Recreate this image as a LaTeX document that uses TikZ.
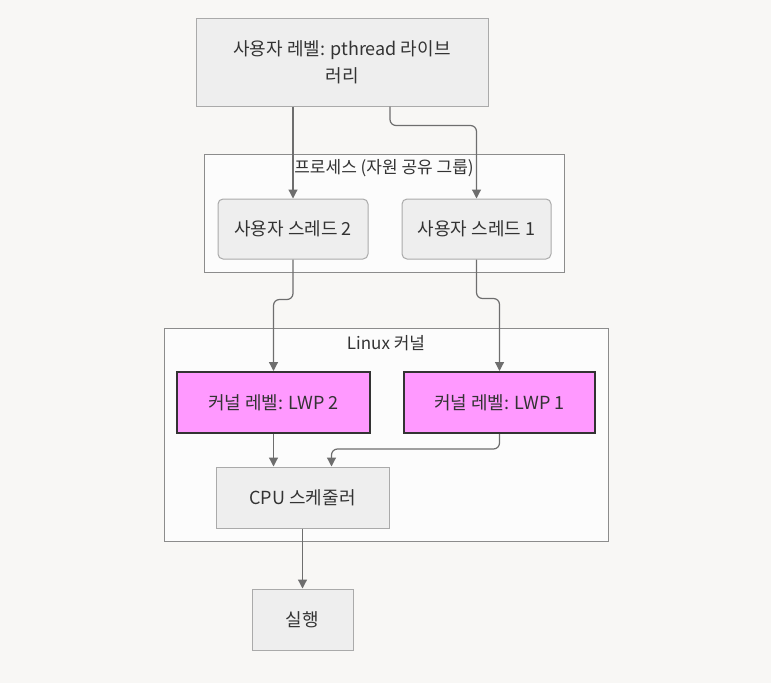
\documentclass[tikz,border=0pt]{standalone}
\usepackage{fontspec}
\setmainfont{Noto Sans CJK KR}
\usetikzlibrary{arrows.meta, positioning}
\definecolor{canvas}{RGB}{248,247,245}
\definecolor{boxfill}{RGB}{238,238,238}
\definecolor{boxline}{RGB}{170,170,170}
\definecolor{groupfill}{RGB}{252,252,252}
\definecolor{groupline}{RGB}{140,140,140}
\definecolor{lwpfill}{RGB}{255,153,255}
\definecolor{lwpline}{RGB}{51,51,51}
\definecolor{arrowgray}{RGB}{110,110,110}
\definecolor{textgray}{RGB}{51,51,51}

\tikzset{
  procbox/.style={draw=boxline, fill=boxfill, line width=1pt, text=textgray,
                  font=\fontsize{18}{27}\selectfont, align=center},
  threadbox/.style={procbox, rounded corners=5pt},
  lwpbox/.style={procbox, fill=lwpfill, draw=lwpline, line width=2pt},
  groupbox/.style={draw=groupline, fill=groupfill, line width=1pt},
  grouplabel/.style={text=textgray, font=\fontsize{17}{20}\selectfont},
  conn/.style={draw=arrowgray, line width=1.2pt, rounded corners=6pt,
               -{Triangle[length=9pt,width=9pt]}}
}

\begin{document}
\begin{tikzpicture}[x=1pt, y=-1pt]
    \fill[canvas] (0,0) rectangle (771,683);

    % groups
    \node[groupbox, minimum width=360pt, minimum height=118pt] (procgrp) at (384,213) {};
    \node[grouplabel] (proclabel) at (384,168) {프로세스 (자원 공유 그룹)};
    \node[groupbox, minimum width=444pt, minimum height=213pt] (kerngrp) at (386,434.5) {};
    \node[grouplabel] (kernlabel) at (386,343) {Linux 커널};

    % nodes
    \node[procbox, minimum width=292pt, minimum height=88pt] (lib) at (342,62)
      {사용자 레벨: pthread 라이브\\러리};
    \node[threadbox, minimum width=150pt, minimum height=60pt] (thr2) at (293,229)
      {사용자 스레드 2};
    \node[threadbox, minimum width=149pt, minimum height=60pt] (thr1) at (476.5,229)
      {사용자 스레드 1};
    \node[lwpbox, minimum width=193pt, minimum height=61pt] (lwp2) at (273.5,402.5)
      {커널 레벨: LWP 2};
    \node[lwpbox, minimum width=191pt, minimum height=61pt] (lwp1) at (499.5,402.5)
      {커널 레벨: LWP 1};
    \node[procbox, minimum width=173pt, minimum height=61pt] (sched) at (302.5,497.5)
      {CPU 스케줄러};
    \node[procbox, minimum width=101pt, minimum height=61pt] (run) at (302.5,619.5)
      {실행};

    % connectors
    \draw[conn] (lib.south -| thr2.north) -- (thr2.north);
    \draw[conn] ([xshift=48pt]lib.south) -- ++(0,19) -| (thr1.north);
    \draw[conn] (thr2.south) -- ++(0,40) -| (lwp2.north);
    \draw[conn] (thr1.south) -- ++(0,39) -| (lwp1.north);
    \draw[conn] (lwp2.south) -- (lwp2.south |- sched.north);
    \draw[conn] (lwp1.south) -- ++(0,15) -| ([xshift=29pt]sched.north);
    \draw[conn] (sched.south) -- (run.north);
\end{tikzpicture}
\end{document}
